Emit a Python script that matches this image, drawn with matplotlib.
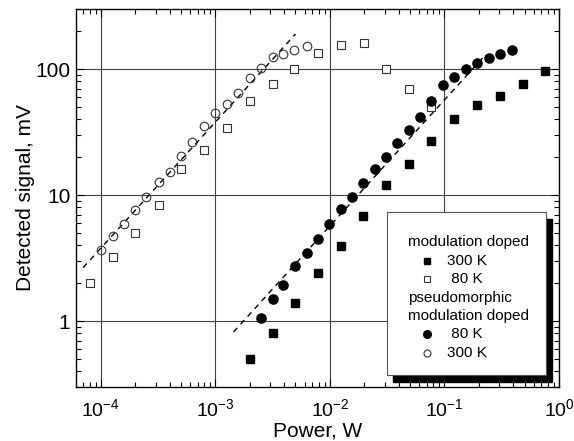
import numpy as np
import matplotlib
matplotlib.use("Agg")
import matplotlib.pyplot as plt
from matplotlib.patches import Rectangle

plt.rcParams['font.family'] = ['Liberation Sans', 'DejaVu Sans']
plt.rcParams['mathtext.fontset'] = 'custom'
plt.rcParams['mathtext.rm'] = 'Liberation Sans'
plt.rcParams['mathtext.it'] = 'Liberation Sans'

# pseudomorphic modulation doped, 300 K (open circles)
p_pm300 = [1.0e-4, 1.28e-4, 1.6e-4, 2.0e-4, 2.5e-4, 3.2e-4, 4.0e-4, 5.0e-4, 6.3e-4, 8.0e-4,
           1.0e-3, 1.25e-3, 1.57e-3, 2.0e-3, 2.5e-3, 3.15e-3, 3.9e-3, 4.9e-3, 6.3e-3]
s_pm300 = [3.7, 4.7, 5.9, 7.6, 9.6, 12.8, 15.3, 20.4, 26.5, 35.3,
           45, 53, 65, 85, 102, 124, 131, 143, 152]

# modulation doped, 80 K (open squares)
p_md80 = [8.0e-5, 1.28e-4, 2.0e-4, 3.2e-4, 5.0e-4, 8.0e-4, 1.25e-3, 2.0e-3, 3.15e-3, 4.9e-3,
          7.9e-3, 1.24e-2, 2.0e-2, 3.1e-2, 4.9e-2, 7.7e-2]
s_md80 = [2.0, 3.2, 5.0, 8.4, 16, 22.8, 33.8, 56, 76, 100,
          135, 155, 160, 100, 69, 50]

# pseudomorphic modulation doped, 80 K (filled circles)
p_pm80 = [2.5e-3, 3.15e-3, 3.9e-3, 5.0e-3, 6.3e-3, 7.9e-3, 9.8e-3, 1.24e-2, 1.55e-2, 1.96e-2,
          2.46e-2, 3.09e-2, 3.88e-2, 4.9e-2, 6.15e-2, 7.7e-2, 9.7e-2, 0.122, 0.155, 0.194,
          0.243, 0.305, 0.385]
s_pm80 = [1.06, 1.5, 1.93, 2.75, 3.5, 4.45, 5.85, 7.74, 9.7, 12.5,
          16.1, 20.1, 25.7, 32.8, 41.8, 55.7, 74.6, 86.9, 99.5, 111,
          122, 133, 142]

# modulation doped, 300 K (filled squares)
p_md300 = [2.0e-3, 3.15e-3, 5.0e-3, 7.9e-3, 1.24e-2, 1.96e-2, 3.09e-2, 4.86e-2, 7.7e-2, 0.122,
           0.194, 0.305, 0.486, 0.76]
s_md300 = [0.50, 0.80, 1.4, 2.39, 3.96, 6.81, 12.0, 17.8, 26.8, 40.1,
           51.8, 61.4, 75.6, 97]

# linear fits (slope 1 in log-log)
fit1_x = [7.0e-5, 5.0e-3]
fit1_k = 38000.0
fit2_x = [1.44e-3, 0.225]
fit2_k = 570.0

fig = plt.figure(figsize=(5.74, 4.41), dpi=100)
ax = fig.add_axes([76 / 574, 1 - 387 / 441, 483 / 574, 378 / 441])
ax.set_xscale('log')
ax.set_yscale('log')
ax.set_xlim(6.06e-5, 1.0)
ax.set_ylim(0.3, 300)

ax.grid(True, which='major', color='#404040', lw=0.8)
ax.set_axisbelow(True)

ax.plot(fit1_x, [fit1_k * x for x in fit1_x], ls=(0, (4, 3.5)), color='black', lw=1.0, zorder=2)
ax.plot(fit2_x, [fit2_k * x for x in fit2_x], ls=(0, (4, 3.5)), color='black', lw=1.0, zorder=2)

ax.plot(p_md80, s_md80, 's', ms=5.4, mfc='white', mec='#333333', mew=0.8, ls='none', zorder=3)
ax.plot(p_pm300, s_pm300, 'o', ms=6.2, mfc='none', mec='#333333', mew=0.8, ls='none', zorder=3)
ax.plot(p_md300, s_md300, 's', ms=5.4, color='black', ls='none', zorder=3)
ax.plot(p_pm80, s_pm80, 'o', ms=6.6, color='black', ls='none', zorder=4)

ax.set_xticks([1e-4, 1e-3, 1e-2, 1e-1, 1])
ax.set_xticklabels([r'$10^{-4}$', r'$10^{-3}$', r'$10^{-2}$', r'$10^{-1}$', r'$10^{0}$'])
ax.set_yticks([1, 10, 100])
ax.set_yticklabels(['1', '10', '100'])
ax.tick_params(which='both', direction='in', top=True, right=True, width=0.8)
ax.tick_params(which='major', length=6)
ax.tick_params(which='minor', length=3.5)
ax.tick_params(axis='x', labelsize=14, pad=8)
ax.tick_params(axis='y', labelsize=15, pad=4)
for sp in ax.spines.values():
    sp.set_linewidth(1.0)

ax.set_xlabel('Power, W', fontsize=15, labelpad=1)
ax.set_ylabel('Detected signal, mV', fontsize=15, labelpad=0)

# legend box with solid shadow (axes fraction coords)
def fx(px):
    return (px - 76) / 483.0

def fy(py):
    return (387 - py) / 378.0

bx0, bx1, by0, by1 = fx(387.3), fx(545.7), fy(375), fy(211.7)
shadow = Rectangle((bx0 + 6 / 483, by0 - 7 / 378), bx1 - bx0, by1 - by0, transform=ax.transAxes,
                   facecolor='black', edgecolor='black', zorder=5)
box = Rectangle((bx0, by0), bx1 - bx0, by1 - by0, transform=ax.transAxes,
                facecolor='white', edgecolor='#555555', lw=0.8, zorder=6)
ax.add_patch(shadow)
ax.add_patch(box)

rows = [242.3, 261, 279.3, 297.7, 315.7, 334.3, 352.7]
tx_head = fx(408.3)
mk_x = fx(426.7)
tx_item = fx(446.7)
ax.text(tx_head, fy(rows[0]), 'modulation doped', transform=ax.transAxes, fontsize=11, va='center', zorder=7)
ax.plot([mk_x], [fy(rows[1])], 's', ms=5, color='black', transform=ax.transAxes, zorder=7, clip_on=False)
ax.text(tx_item, fy(rows[1]), '300 K', transform=ax.transAxes, fontsize=11, va='center', zorder=7)
ax.plot([mk_x], [fy(rows[2])], 's', ms=5, mfc='white', mec='#333333', mew=0.8, transform=ax.transAxes,
        zorder=7, clip_on=False)
ax.text(tx_item, fy(rows[2]), ' 80 K', transform=ax.transAxes, fontsize=11, va='center', zorder=7)
ax.text(tx_head, fy(rows[3]), 'pseudomorphic', transform=ax.transAxes, fontsize=11, va='center', zorder=7)
ax.text(tx_head, fy(rows[4]), 'modulation doped', transform=ax.transAxes, fontsize=11, va='center', zorder=7)
ax.plot([mk_x], [fy(rows[5])], 'o', ms=5.5, color='black', transform=ax.transAxes, zorder=7, clip_on=False)
ax.text(tx_item, fy(rows[5]), ' 80 K', transform=ax.transAxes, fontsize=11, va='center', zorder=7)
ax.plot([mk_x], [fy(rows[6])], 'o', ms=5, mfc='white', mec='#333333', mew=0.8, transform=ax.transAxes,
        zorder=7, clip_on=False)
ax.text(tx_item, fy(rows[6]), '300 K', transform=ax.transAxes, fontsize=11, va='center', zorder=7)

fig.savefig('out.png', dpi=100)
